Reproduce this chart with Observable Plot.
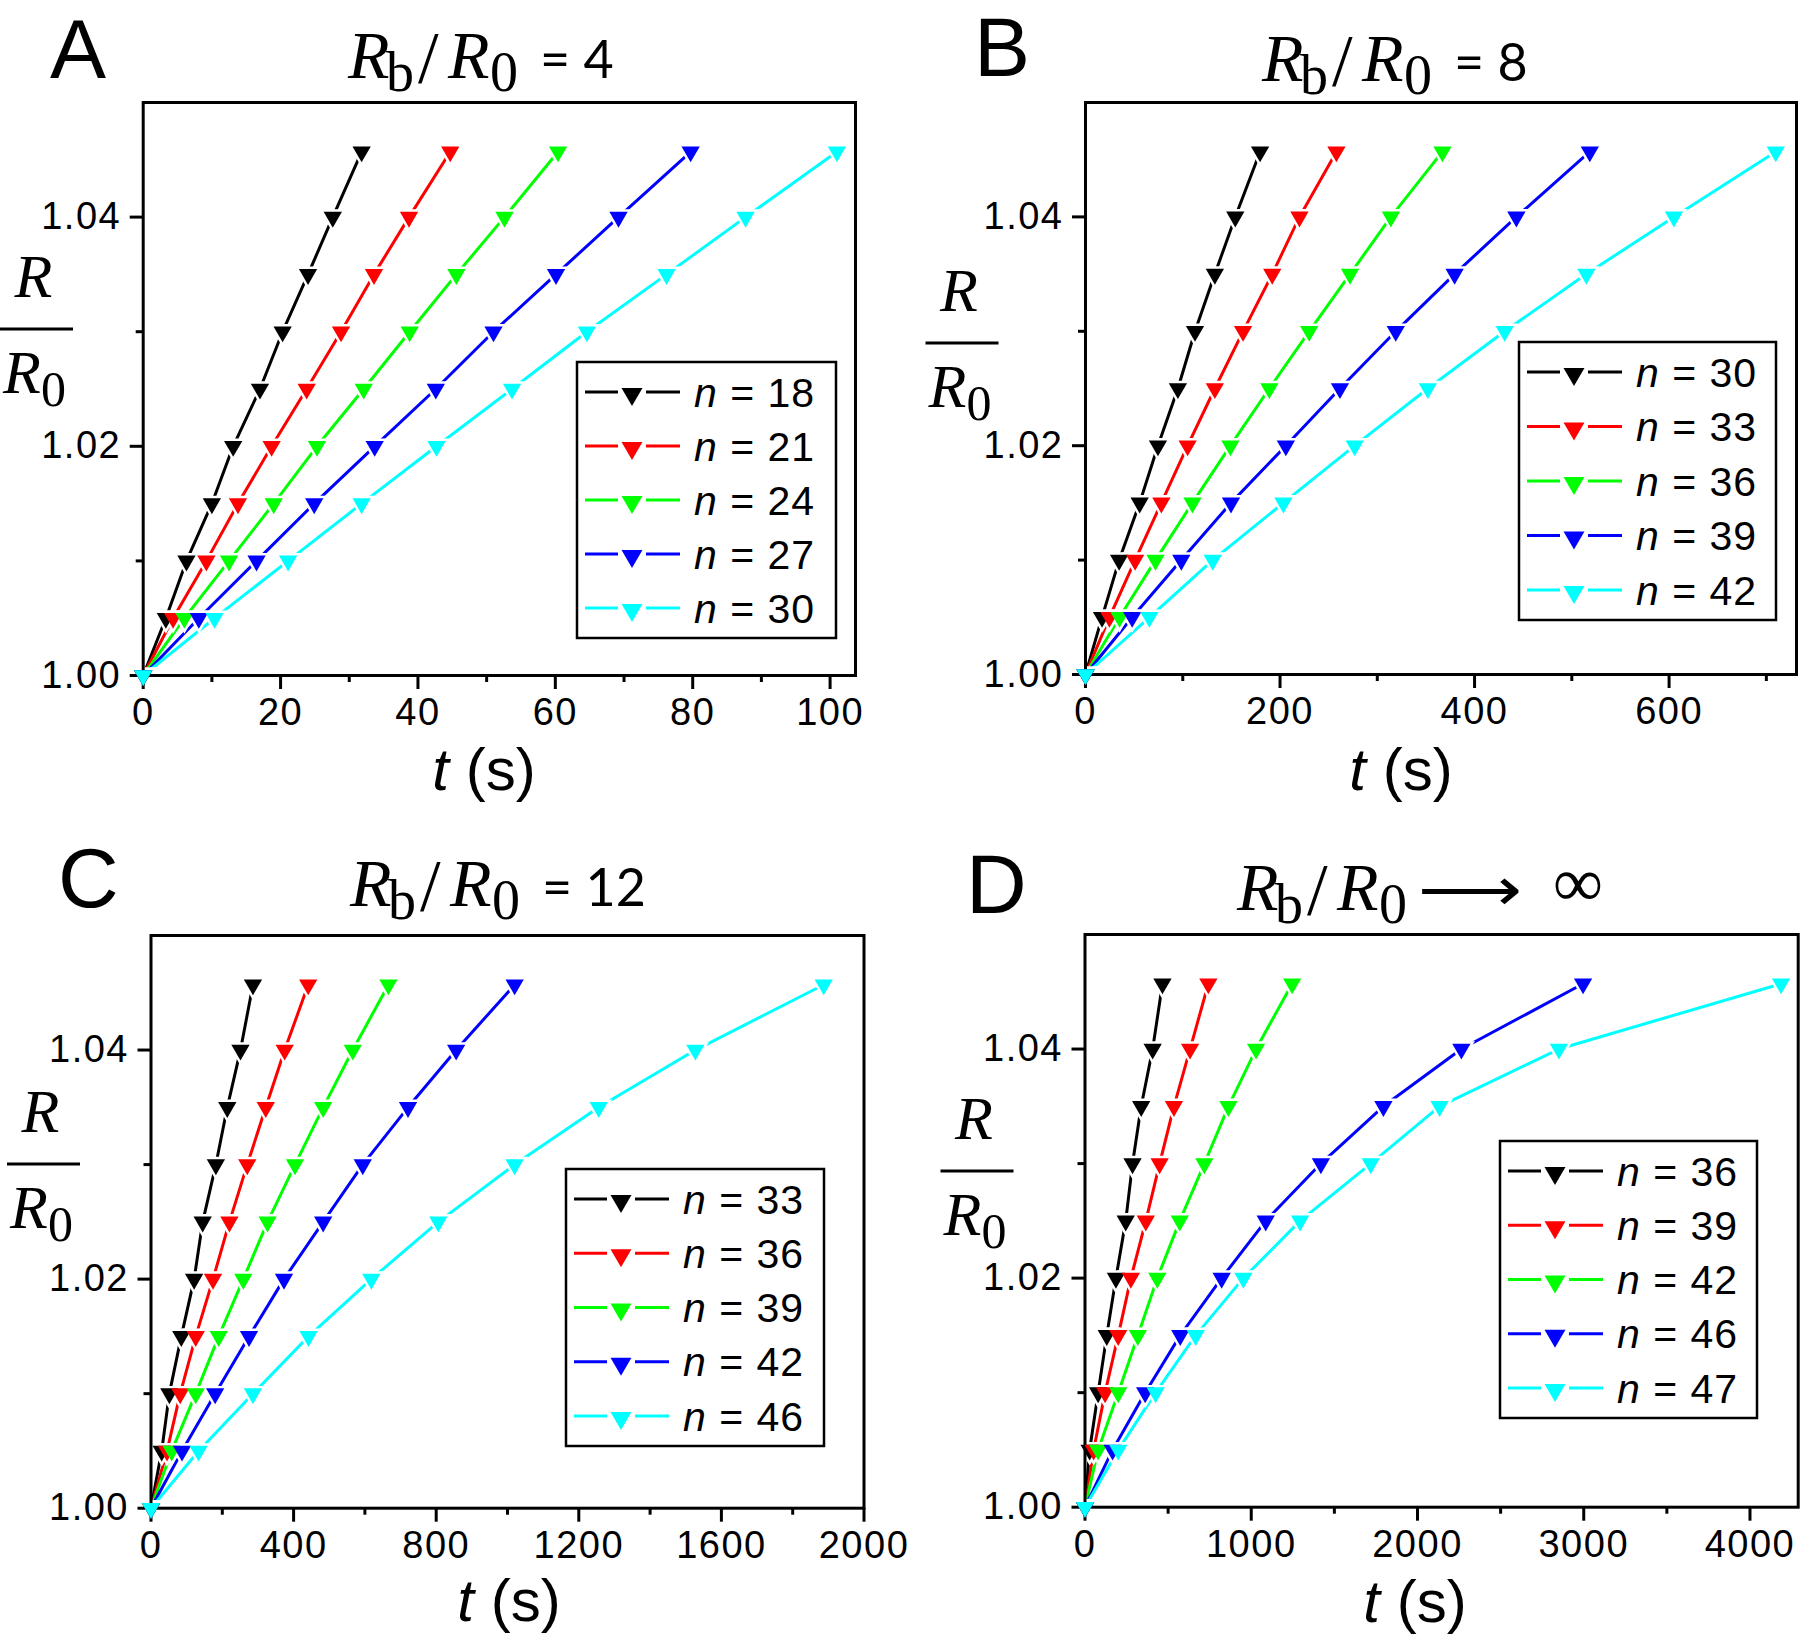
<!DOCTYPE html>
<html>
<head>
<meta charset="utf-8">
<script src="https://cdn.jsdelivr.net/npm/d3@7"></script>
<script src="https://cdn.jsdelivr.net/npm/@observablehq/plot@0.6"></script>
<style>
  html, body { margin: 0; padding: 0; background: #fff; }
  #root { position: relative; width: 1800px; height: 1635px; overflow: hidden; background: #fff; }
  .panel { position: absolute; }
  #overlay { position: absolute; left: 0; top: 0; }
</style>
</head>
<body>
<div id="root"></div>
<script>
// ---------------- data ----------------
const colors = ["#000000", "#ff0000", "#00ff00", "#0000ff", "#00ffff"];
// R/R0 levels at which each curve has a marker
const yLevels = [1.000, 1.005, 1.010, 1.015, 1.020, 1.025, 1.030, 1.035, 1.040, 1.0457];
const yMajor = [1.00, 1.02, 1.04];
const yMinor = [1.01, 1.03];

// Panel A: Rb/R0 = 4
const nA = [18, 21, 24, 27, 30];
const tA18 = [0, 3.3, 6.3, 10.0, 13.1, 17.0, 20.3, 24.0, 27.6, 31.8];
const tA21 = [0, 4.35, 9.2, 13.8, 18.7, 23.8, 28.8, 33.6, 38.7, 44.7];
const tA24 = [0, 6.0, 12.5, 19.0, 25.3, 32.1, 38.8, 45.6, 52.6, 60.4];
const tA27 = [0, 8.1, 16.5, 24.9, 33.7, 42.6, 51.0, 60.1, 69.2, 79.7];
const tA30 = [0, 10.4, 21.1, 31.8, 42.7, 53.7, 64.6, 76.2, 87.7, 101.0];
const xMajorA = [0, 20, 40, 60, 80, 100];
const xMinorA = [10, 30, 50, 70, 90];

// Panel B: Rb/R0 = 8
const nB = [30, 33, 36, 39, 42];
const tB30 = [0, 17, 34.6, 55.7, 74.5, 95, 112.6, 133, 154, 179.5];
const tB33 = [0, 24.6, 51, 78, 105, 133, 162, 192, 220, 258];
const tB36 = [0, 35, 72, 110, 149, 189, 230, 272, 314, 367];
const tB39 = [0, 48, 98.5, 149.6, 206, 261.6, 319, 379.5, 443, 518.5];
const tB42 = [0, 65.7, 130.8, 203.5, 276.8, 352, 431, 515, 605, 709.7];
const xMajorB = [0, 200, 400, 600];
const xMinorB = [100, 300, 500, 700];

// Panel C: Rb/R0 = 12
const nC = [33, 36, 39, 42, 46];
const tC33 = [0, 30, 51.5, 85, 121, 145, 182, 214, 251, 286];
const tC36 = [0, 45, 82, 125.5, 174, 220, 270, 322, 375, 441];
const tC39 = [0, 58, 125.5, 190, 259, 327, 404, 483, 566, 666];
const tC42 = [0, 87, 180, 275, 373, 483, 594, 721, 856, 1020];
const tC46 = [0, 133.5, 286, 442, 618, 806, 1020, 1256, 1527, 1887];
const xMajorC = [0, 400, 800, 1200, 1600, 2000];
const xMinorC = [200, 600, 1000, 1400, 1800];

// Panel D: Rb/R0 -> infinity
const nD = [36, 39, 42, 46, 47];
const tD36 = [0, 28, 79, 131, 186, 245, 286, 338, 407, 466];
const tD39 = [0, 52, 121, 200, 276, 366, 449, 535, 632, 742];
const tD42 = [0, 79, 200, 318, 435, 570, 718, 863, 1029, 1246];
const tD46 = [0, 166, 362, 573, 822, 1087, 1419, 1795, 2264, 2996];
const tD47 = [0, 200, 425, 666, 953, 1294, 1719, 2133, 2851, 4187];
const xMajorD = [0, 1000, 2000, 3000, 4000];
const xMinorD = [500, 1500, 2500, 3500];

const titleRest = ["= 4", "= 8", "= 12", null];
const panelLetters = ["A", "B", "C", "D"];

// ---------------- layout ----------------
const panels = [
  { left: 0, top: 0, w: 900, h: 820, frame: {l: 142.7, r: 855, t: 102, b: 675}, xDomain: [0, 103.7],
    xMajor: xMajorA, xMinor: xMinorA, ns: nA, ts: [tA18, tA21, tA24, tA27, tA30],
    letter: {x: 50, y: 78}, title: {x: 348, y: 78}, ylab: {cx: 36.5, bar: 329}, xlab: {cx: 484, y: 790},
    legend: {x: 577, y: 362, w: 259, h: 276} },
  { left: 900, top: 0, w: 900, h: 820, frame: {l: 1085, r: 1796, t: 102, b: 674}, xDomain: [0, 731],
    xMajor: xMajorB, xMinor: xMinorB, ns: nB, ts: [tB30, tB33, tB36, tB39, tB42],
    letter: {x: 974, y: 76}, title: {x: 1262, y: 81}, ylab: {cx: 962, bar: 343}, xlab: {cx: 1401, y: 790},
    legend: {x: 1519, y: 342, w: 257, h: 278} },
  { left: 0, top: 820, w: 900, h: 815, frame: {l: 150.5, r: 863.5, t: 935, b: 1507.7}, xDomain: [0, 2000],
    xMajor: xMajorC, xMinor: xMinorC, ns: nC, ts: [tC33, tC36, tC39, tC42, tC46],
    letter: {x: 58, y: 907}, title: {x: 350, y: 906}, ylab: {cx: 43.5, bar: 1164}, xlab: {cx: 509, y: 1621},
    legend: {x: 566, y: 1169, w: 258, h: 277} },
  { left: 900, top: 820, w: 900, h: 815, frame: {l: 1084.5, r: 1797.7, t: 934, b: 1506.7}, xDomain: [0, 4290],
    xMajor: xMajorD, xMinor: xMinorD, ns: nD, ts: [tD36, tD39, tD42, tD46, tD47],
    letter: {x: 966, y: 913}, title: {x: 1237, y: 910}, ylab: {cx: 977, bar: 1171}, xlab: {cx: 1415, y: 1622},
    legend: {x: 1500, y: 1141, w: 257, h: 277} }
];

const root = document.getElementById("root");

panels.forEach((p) => {
  const series = p.ts.map((t, i) => t.map((v, j) => ({t: v, r: yLevels[j], s: i})));
  const lines = series.map((d, i) => Plot.line(d, {x: "t", y: "r", stroke: colors[i], strokeWidth: 3}));
  const halos = series.map((d) => Plot.dot(d, {x: "t", y: "r", symbol: "triangle", r: 10, rotate: 180, fill: "white"}));
  const dots = series.map((d, i) => Plot.dot(d, {x: "t", y: "r", symbol: "triangle", r: 6.8, rotate: 180, fill: colors[i]}));

  const svg = Plot.plot({
    width: p.w,
    height: p.h,
    marginLeft: p.frame.l - p.left,
    marginRight: p.left + p.w - p.frame.r,
    marginTop: p.frame.t - p.top,
    marginBottom: p.top + p.h - p.frame.b,
    x: {domain: p.xDomain, label: null},
    y: {domain: [1.0, 1.05], label: null},
    style: {fontFamily: "'Liberation Sans', Arial, sans-serif", fontSize: "38px", color: "#000",
            background: "transparent", overflow: "visible", letterSpacing: "1.5px"},
    marks: [
      ...lines,
      ...halos,
      Plot.axisX(p.xMajor, {tickSize: 14, tickPadding: 9, strokeWidth: 3, label: null, tickFormat: (d) => String(d)}),
      Plot.axisX(p.xMinor, {tickSize: 7, strokeWidth: 3, label: null, tickFormat: () => ""}),
      Plot.axisY(yMajor, {tickSize: 13, tickPadding: 9, strokeWidth: 3, label: null, tickFormat: d3.format(".2f")}),
      Plot.axisY(yMinor, {tickSize: 7, strokeWidth: 3, label: null, tickFormat: () => ""}),
      Plot.frame({stroke: "black", strokeWidth: 3}),
      ...dots
    ]
  });
  const wrap = document.createElement("div");
  wrap.className = "panel";
  wrap.style.left = p.left + "px";
  wrap.style.top = p.top + "px";
  wrap.appendChild(svg);
  root.appendChild(wrap);
});

// ---------------- overlay text: letters, titles, axis titles, legends ----------------
const ov = d3.select(root).append("svg").attr("id", "overlay").attr("width", 1800).attr("height", 1635);
const serif = "'Liberation Serif', 'Times New Roman', serif";
const sans = "Lato, 'Open Sans', sans-serif";
const arial = "'Liberation Sans', Arial, sans-serif";

panels.forEach((p, k) => {
  // panel letter
  ov.append("text").attr("x", p.letter.x).attr("y", p.letter.y)
    .attr("font-family", arial).attr("font-size", 84).text(panelLetters[k]);

  // title  R_b / R_0 = ...
  const tx = p.title.x, ty = p.title.y;
  const g = ov.append("g").attr("font-family", serif);
  g.append("text").attr("x", tx).attr("y", ty).attr("font-size", 68).attr("font-style", "italic").text("R");
  g.append("text").attr("x", tx + 38).attr("y", ty + 13).attr("font-size", 56).text("b");
  g.append("text").attr("x", tx + 70).attr("y", ty + 5).attr("font-size", 74).text("/");
  g.append("text").attr("x", tx + 100).attr("y", ty).attr("font-size", 68).attr("font-style", "italic").text("R");
  g.append("text").attr("x", tx + 142).attr("y", ty + 13).attr("font-size", 56).text("0");
  if (titleRest[k]) {
    g.append("text").attr("x", tx + 192).attr("y", ty).attr("font-family", sans).attr("font-size", 52)
      .text(titleRest[k]);
  } else {
    g.append("text").attr("x", tx + 181).attr("y", ty).attr("font-family", "'DejaVu Sans', sans-serif")
      .attr("font-size", 60).attr("textLength", 104).attr("lengthAdjust", "spacingAndGlyphs").text("\u27F6");
    g.append("text").attr("x", tx + 316).attr("y", ty - 4).attr("font-size", 70).text("\u221E");
  }

  // y-axis title R / R0
  const yl = ov.append("g").attr("font-family", serif).attr("font-size", 62);
  yl.append("line").attr("x1", p.ylab.cx - 36.5).attr("x2", p.ylab.cx + 36.5)
    .attr("y1", p.ylab.bar).attr("y2", p.ylab.bar).attr("stroke", "black").attr("stroke-width", 3);
  yl.append("text").attr("x", p.ylab.cx - 3).attr("y", p.ylab.bar - 32).attr("text-anchor", "middle")
    .attr("font-style", "italic").text("R");
  const den = yl.append("text").attr("x", p.ylab.cx - 2).attr("y", p.ylab.bar + 64).attr("text-anchor", "middle");
  den.append("tspan").attr("font-style", "italic").text("R");
  den.append("tspan").attr("font-size", 50).attr("dy", 13).text("0");

  // x-axis title t (s)
  const xl = ov.append("text").attr("x", p.xlab.cx).attr("y", p.xlab.y).attr("text-anchor", "middle")
    .attr("font-family", arial).attr("font-size", 60);
  xl.append("tspan").attr("font-style", "italic").text("t");
  xl.append("tspan").text(" (s)");

  // legend
  const L = p.legend;
  const lg = ov.append("g");
  lg.append("rect").attr("x", L.x).attr("y", L.y).attr("width", L.w).attr("height", L.h)
    .attr("fill", "white").attr("stroke", "black").attr("stroke-width", 2.5);
  const step = (L.h - 60) / 4;
  p.ns.forEach((n, i) => {
    const cy = L.y + 30 + i * step;
    lg.append("line").attr("x1", L.x + 8).attr("x2", L.x + 103).attr("y1", cy).attr("y2", cy)
      .attr("stroke", colors[i]).attr("stroke-width", 3);
    lg.append("rect").attr("x", L.x + 41).attr("y", cy - 11).attr("width", 28).attr("height", 22).attr("fill", "white");
    lg.append("path").attr("d", d3.symbol(d3.symbolTriangle, 190)())
      .attr("transform", `translate(${L.x + 55},${cy + 2}) rotate(180)`).attr("fill", colors[i]);
    const t = lg.append("text").attr("x", L.x + 117).attr("y", cy + 14.5)
      .attr("font-family", arial).attr("font-size", 41).attr("letter-spacing", "1px");
    t.append("tspan").attr("font-style", "italic").text("n");
    t.append("tspan").text(" = " + n);
  });
});
</script>
</body>
</html>
